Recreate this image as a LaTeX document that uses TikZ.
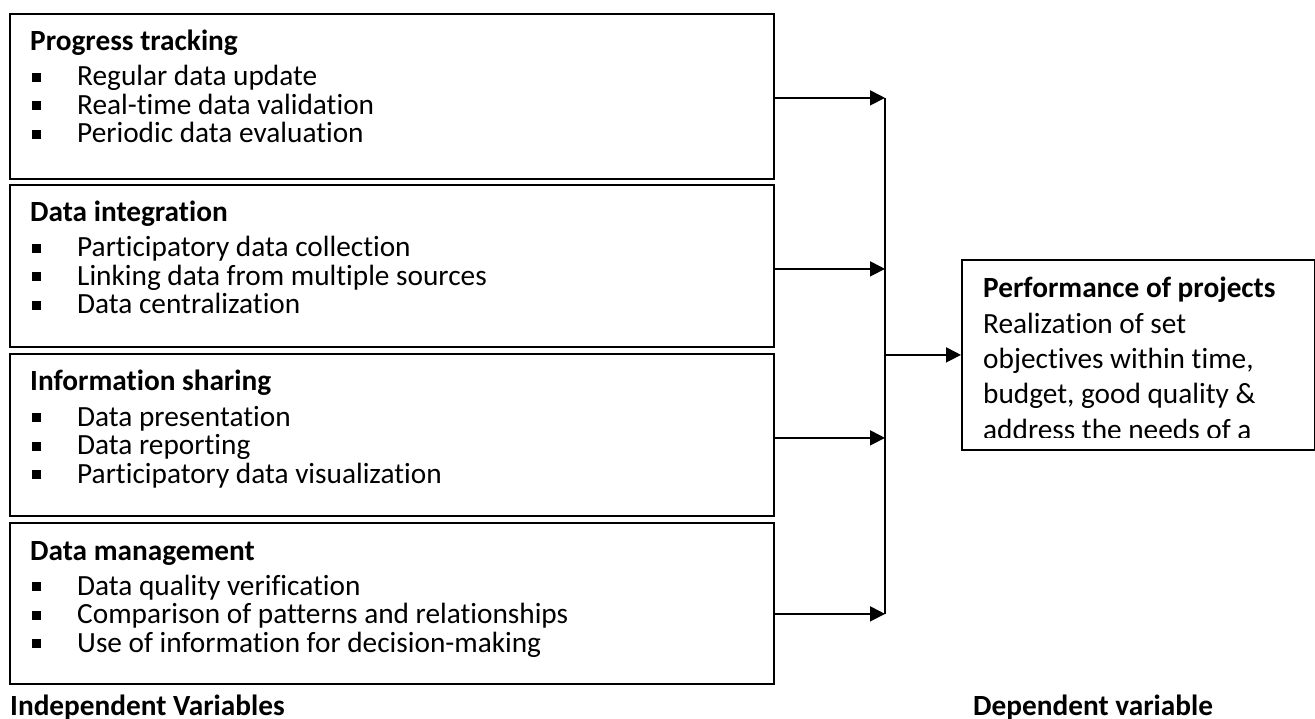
\documentclass[tikz,border=0pt]{standalone}
\usepackage{fontspec}
\setmainfont{Carlito}[Ligatures=NoCommon]
\usetikzlibrary{arrows.meta}
\tikzset{
	box/.style={draw, line width=1.8pt, inner sep=0pt, anchor=north west},
	txt/.style={anchor=base west, inner sep=0pt, font=\fontsize{29.3}{34}\selectfont},
	hd/.style={txt, font=\fontsize{29.3}{34}\selectfont\bfseries},
	wire/.style={line width=1.8pt},
	arr/.style={wire, -{Triangle[length=15pt,width=15pt]}}
}
\newcommand{\sqbul}{\makebox[45pt][l]{\rule[4pt]{9pt}{9pt}}}
\begin{document}
\begin{tikzpicture}[x=1pt,y=-1pt]
	\useasboundingbox (0,0) rectangle (1315,719);
	\coordinate (bus) at (885,0);
	% independent variables
	\foreach \n/\t/\h/\dy/\hdt/\ia/\ib/\ic in {
		track/13/165/1.5/Progress tracking/Regular data update/Real-time data validation/Periodic data evaluation,
		integ/184/162/3/Data integration/Participatory data collection/Linking data from multiple sources/Data centralization,
		share/353/162/3/Information sharing/Data presentation/Data reporting/Participatory data visualization,
		manage/522/161/10.5/Data management/Data quality verification/Comparison of patterns and relationships/Use of information for decision-making}
	{
		\node[box, minimum width=764pt, minimum height=\h pt] (\n) at (9,\t) {};
		\node[hd] (\n-h) at (30,\t+38) {\hdt};
		\node[txt] (\n-a) at (32,\t+73) {\sqbul\ia};
		\node[txt] (\n-b) at (32,\t+101.5) {\sqbul\ib};
		\node[txt] (\n-c) at (32,\t+130) {\sqbul\ic};
		\coordinate (\n-o) at ([yshift=-\dy pt]\n.east);
		\draw[arr] (\n-o) -- (\n-o -| bus);
	}
	\draw[wire] (track-o -| bus) -- (manage-o -| bus);
	% dependent variable
	\node[box, minimum width=353pt, minimum height=190pt] (perf) at (961,259) {};
	\draw[arr] (perf.west -| bus) -- (perf.west);
	\begin{scope}
		\clip (961,259) rectangle (1314,437.5);
		\node[hd] (perf-h) at (983,298) {Performance of projects};
		\foreach \s [count=\i] in {Realization of set, {objectives within time,}, {budget, good quality \&}, address the needs of a}
			\node[txt] (perf-\i) at (983,298+35.25*\i) {\s};
	\end{scope}
	\node[hd] (indep) at (10,715) {Independent Variables};
	\node[hd] (dep) at (973,715) {Dependent variable};
\end{tikzpicture}
\end{document}
